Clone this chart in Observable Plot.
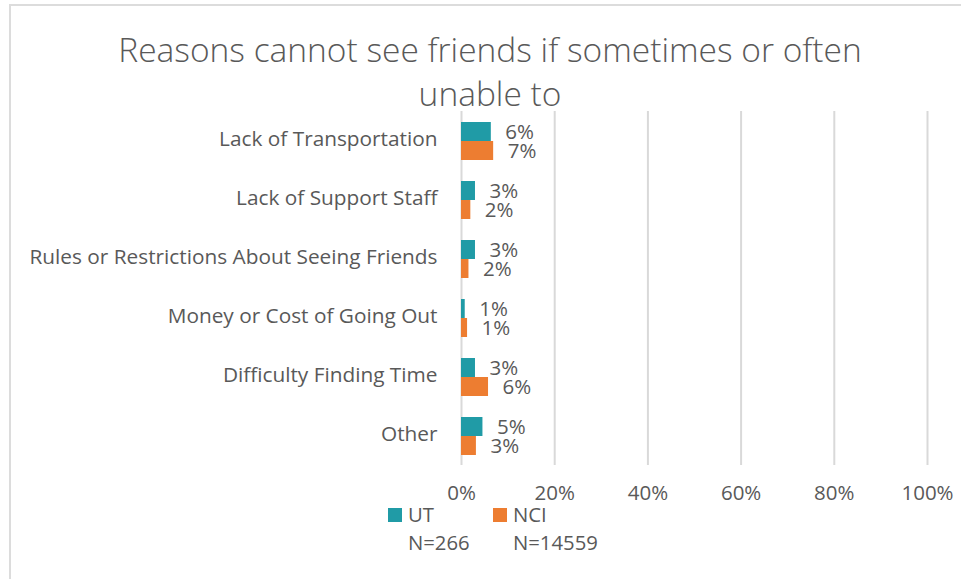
<!DOCTYPE html>
<html>
<head>
<meta charset="utf-8">
<script src="https://cdn.jsdelivr.net/npm/d3@7"></script>
<script src="https://cdn.jsdelivr.net/npm/@observablehq/plot@0.6"></script>
<style>
  html, body { margin: 0; padding: 0; background: #fff; }
  #wrap { position: relative; width: 961px; height: 579px; overflow: hidden; font-family: "Open Sans", Lato, sans-serif; color: #595959; }
  #border { position: absolute; left: 9px; top: 4px; width: 1000px; height: 700px; border: 2px solid #dcdcdc; box-sizing: border-box; }
  #title { position: absolute; left: 0; width: 980px; top: 27px; text-align: center; font-size: 33.5px; font-weight: 300; line-height: 44px; color: #595959; }
  #chart { position: absolute; left: 0; top: 0; }
  .lg { position: absolute; font-size: 20.3px; line-height: 22px; color: #595959; }
  .sw { position: absolute; width: 14px; height: 14px; }
</style>
</head>
<body>
<div id="wrap">
  <div id="border"></div>
  <div id="chart"></div>
  <div id="title">Reasons cannot see friends if sometimes or often<br>unable to</div>
  <div id="legend"></div>
</div>
<script>
const categories = [
  "Lack of Transportation",
  "Lack of Support Staff",
  "Rules or Restrictions About Seeing Friends",
  "Money or Cost of Going Out",
  "Difficulty Finding Time",
  "Other"
];
const seriesNames = ["UT", "NCI"];
const seriesN = ["N=266", "N=14559"];
const utValues  = [0.064, 0.030, 0.030, 0.008, 0.030, 0.046];
const nciValues = [0.069, 0.020, 0.016, 0.013, 0.058, 0.032];
const colors = ["#209BA6", "#ED7D31"];
const xTicks = [0, 0.2, 0.4, 0.6, 0.8, 1.0];

const data = [];
categories.forEach((c, i) => {
  data.push({cat: c, series: "UT", value: utValues[i]});
  data.push({cat: c, series: "NCI", value: nciValues[i]});
});

const pct = d3.format(".0%");

const chart = Plot.plot({
  width: 961,
  height: 579,
  marginLeft: 461,
  marginRight: 34,
  marginTop: 110,
  marginBottom: 114,
  style: {fontFamily: "'Open Sans', Lato, sans-serif", color: "#595959", background: "transparent"},
  x: {domain: [0, 1]},
  fy: {domain: categories, padding: 0},
  y: {domain: seriesNames, paddingInner: 0, paddingOuter: 0.48},
  color: {domain: seriesNames, range: colors},
  facet: {data: data, y: "cat"},
  marks: [
    Plot.gridX(xTicks, {stroke: "#d9d9d9", strokeOpacity: 1, strokeWidth: 2}),
    Plot.barX(data, {x: "value", y: "series", fill: "series"}),
    Plot.text(data, {x: "value", y: "series", text: d => pct(d.value), textAnchor: "start", dx: 14, dy: 0.5, fontSize: 20.5, fill: "#595959"}),
    Plot.axisX({ticks: xTicks, tickFormat: pct, tickSize: 0, tickPadding: 20, fontSize: 20.5, label: null}),
    Plot.axisFy({anchor: "left", tickSize: 0, tickPadding: 24, dy: -1.5, fontSize: 20.8, label: null}),
    Plot.axisY({ticks: [], label: null})
  ]
});
document.getElementById("chart").appendChild(chart);

const legend = document.getElementById("legend");
const lgX = [388, 493];
seriesNames.forEach((s, i) => {
  const sw = document.createElement("div");
  sw.className = "sw";
  sw.style.left = lgX[i] + "px";
  sw.style.top = "508px";
  sw.style.background = colors[i];
  legend.appendChild(sw);
  const t = document.createElement("div");
  t.className = "lg";
  t.style.left = (lgX[i] + 20) + "px";
  t.style.top = "503px";
  t.textContent = s;
  legend.appendChild(t);
  const n = document.createElement("div");
  n.className = "lg";
  n.style.left = (lgX[i] + 20) + "px";
  n.style.top = "531px";
  n.textContent = seriesN[i];
  legend.appendChild(n);
});
</script>
</body>
</html>
